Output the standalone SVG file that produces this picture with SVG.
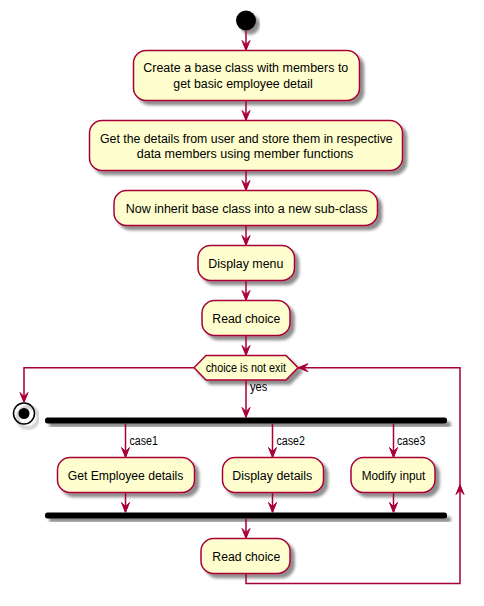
<svg xmlns="http://www.w3.org/2000/svg" width="484" height="606" viewBox="0 0 484 606">
<defs>
<filter id="sh" x="-10%" y="-30%" width="130%" height="180%">
<feGaussianBlur in="SourceAlpha" stdDeviation="1.7"/>
<feOffset dx="4" dy="4" result="b"/>
<feComponentTransfer><feFuncA type="linear" slope="0.45"/></feComponentTransfer>
<feMerge><feMergeNode/><feMergeNode in="SourceGraphic"/></feMerge>
</filter>
</defs>
<style>
.act{fill:#FEFECE;stroke:#A80036;stroke-width:1.5;filter:url(#sh)}
.t{font-family:"Liberation Sans",Arial,sans-serif;font-size:12px;fill:#000}
.ln{fill:none;stroke:#A80036;stroke-width:1.5}
.ah{fill:#A80036;stroke:#A80036;stroke-width:1}
.bar{fill:#000;filter:url(#sh)}
</style>
<rect width="484" height="606" fill="#FFFFFF"/>
<g id="start"><circle cx="246" cy="20.5" r="10" fill="#000" filter="url(#sh)"/></g>
<g id="n1"><rect class="act" x="133.5" y="50.5" width="226" height="50" rx="12.5"/>
<text class="t" x="143.3" y="72" textLength="205" lengthAdjust="spacingAndGlyphs">Create a base class with members to</text>
<text class="t" x="173.3" y="88" textLength="139.4" lengthAdjust="spacingAndGlyphs">get basic employee detail</text></g>
<g id="n2"><rect class="act" x="89.5" y="120.5" width="313" height="50" rx="12.5"/>
<text class="t" x="100" y="142.5" textLength="292.7" lengthAdjust="spacingAndGlyphs">Get the details from user and store them in respective</text>
<text class="t" x="136.7" y="158" textLength="216.7" lengthAdjust="spacingAndGlyphs">data members using member functions</text></g>
<g id="n3"><rect class="act" x="114" y="190.5" width="263.5" height="35" rx="12.5"/>
<text class="t" x="125.7" y="213" textLength="241.7" lengthAdjust="spacingAndGlyphs">Now inherit base class into a new sub-class</text></g>
<g id="n4"><rect class="act" x="198" y="245.5" width="96.5" height="35" rx="12.5"/>
<text class="t" x="208.3" y="268" textLength="75" lengthAdjust="spacingAndGlyphs">Display menu</text></g>
<g id="n5"><rect class="act" x="202" y="300.5" width="88" height="35" rx="12.5"/>
<text class="t" x="212.3" y="323" textLength="68" lengthAdjust="spacingAndGlyphs">Read choice</text></g>
<g id="d1"><polygon class="act" points="194,367.7 206,355.5 286,355.5 298,367.7 286,380 206,380"/>
<text class="t" x="205.7" y="372" textLength="80.3" lengthAdjust="spacingAndGlyphs">choice is not exit</text></g>
<g id="stop"><circle cx="24" cy="413.5" r="10.5" fill="none" stroke="#000" stroke-width="1.5" filter="url(#sh)"/><circle cx="24" cy="413.5" r="5.5" fill="#000"/></g>
<g id="fork"><rect class="bar" x="45" y="417.5" width="402" height="6" rx="2.5"/></g>
<g id="c1"><rect class="act" x="57.5" y="457.5" width="137" height="35" rx="12.5"/>
<text class="t" x="67.7" y="480" textLength="115.7" lengthAdjust="spacingAndGlyphs">Get Employee details</text></g>
<g id="c2"><rect class="act" x="222.5" y="457.5" width="101" height="35" rx="12.5"/>
<text class="t" x="232.3" y="480" textLength="80" lengthAdjust="spacingAndGlyphs">Display details</text></g>
<g id="c3"><rect class="act" x="351" y="457.5" width="84" height="35" rx="12.5"/>
<text class="t" x="361.7" y="480" textLength="63.7" lengthAdjust="spacingAndGlyphs">Modify input</text></g>
<g id="join"><rect class="bar" x="45" y="512.5" width="402" height="6" rx="2.5"/></g>
<g id="n6"><rect class="act" x="201" y="538.5" width="89" height="35" rx="12.5"/>
<text class="t" x="212.3" y="561" textLength="68" lengthAdjust="spacingAndGlyphs">Read choice</text></g>
<g id="connectors">
<line class="ln" x1="246" y1="30.5" x2="246" y2="50"/>
<polygon class="ah" points="242,40.5 246,50.5 250,40.5 246,44.5"/>
<line class="ln" x1="246" y1="100.5" x2="246" y2="120"/>
<polygon class="ah" points="242,110.5 246,120.5 250,110.5 246,114.5"/>
<line class="ln" x1="246" y1="170.5" x2="246" y2="190"/>
<polygon class="ah" points="242,180.5 246,190.5 250,180.5 246,184.5"/>
<line class="ln" x1="246" y1="225.5" x2="246" y2="245"/>
<polygon class="ah" points="242,235.5 246,245.5 250,235.5 246,239.5"/>
<line class="ln" x1="246" y1="280.5" x2="246" y2="300"/>
<polygon class="ah" points="242,290.5 246,300.5 250,290.5 246,294.5"/>
<line class="ln" x1="246" y1="335.5" x2="246" y2="355"/>
<polygon class="ah" points="242,345.5 246,355.5 250,345.5 246,349.5"/>
<polyline class="ln" points="194,367.7 24,367.7 24,402"/>
<polygon class="ah" points="20,392.5 24,402.5 28,392.5 24,396.5"/>
<line class="ln" x1="246" y1="380" x2="246" y2="417"/>
<polygon class="ah" points="242,407.5 246,417.5 250,407.5 246,411.5"/>
<text class="t" x="250" y="391" textLength="17.3" lengthAdjust="spacingAndGlyphs">yes</text>
<line class="ln" x1="125.5" y1="423.5" x2="125.5" y2="457"/>
<polygon class="ah" points="121.5,447.5 125.5,457.5 129.5,447.5 125.5,451.5"/>
<text class="t" x="129.5" y="445" textLength="28.3" lengthAdjust="spacingAndGlyphs">case1</text>
<line class="ln" x1="272.5" y1="423.5" x2="272.5" y2="457"/>
<polygon class="ah" points="268.5,447.5 272.5,457.5 276.5,447.5 272.5,451.5"/>
<text class="t" x="276.5" y="445" textLength="28.3" lengthAdjust="spacingAndGlyphs">case2</text>
<line class="ln" x1="393.5" y1="423.5" x2="393.5" y2="457"/>
<polygon class="ah" points="389.5,447.5 393.5,457.5 397.5,447.5 393.5,451.5"/>
<text class="t" x="397" y="445" textLength="28.3" lengthAdjust="spacingAndGlyphs">case3</text>
<line class="ln" x1="125.5" y1="492.5" x2="125.5" y2="512"/>
<polygon class="ah" points="121.5,502.5 125.5,512.5 129.5,502.5 125.5,506.5"/>
<line class="ln" x1="272.5" y1="492.5" x2="272.5" y2="512"/>
<polygon class="ah" points="268.5,502.5 272.5,512.5 276.5,502.5 272.5,506.5"/>
<line class="ln" x1="393.5" y1="492.5" x2="393.5" y2="512"/>
<polygon class="ah" points="389.5,502.5 393.5,512.5 397.5,502.5 393.5,506.5"/>
<line class="ln" x1="246" y1="518.5" x2="246" y2="538"/>
<polygon class="ah" points="242,528.5 246,538.5 250,528.5 246,532.5"/>
<polyline class="ln" points="246,573.5 246,583.5 460,583.5 460,367.7 298,367.7"/>
<polygon class="ah" points="456,494.5 460,484.5 464,494.5 460,490.5"/>
<polygon class="ah" points="308,363.7 298,367.7 308,371.7 304,367.7"/>
</g>
</svg>
